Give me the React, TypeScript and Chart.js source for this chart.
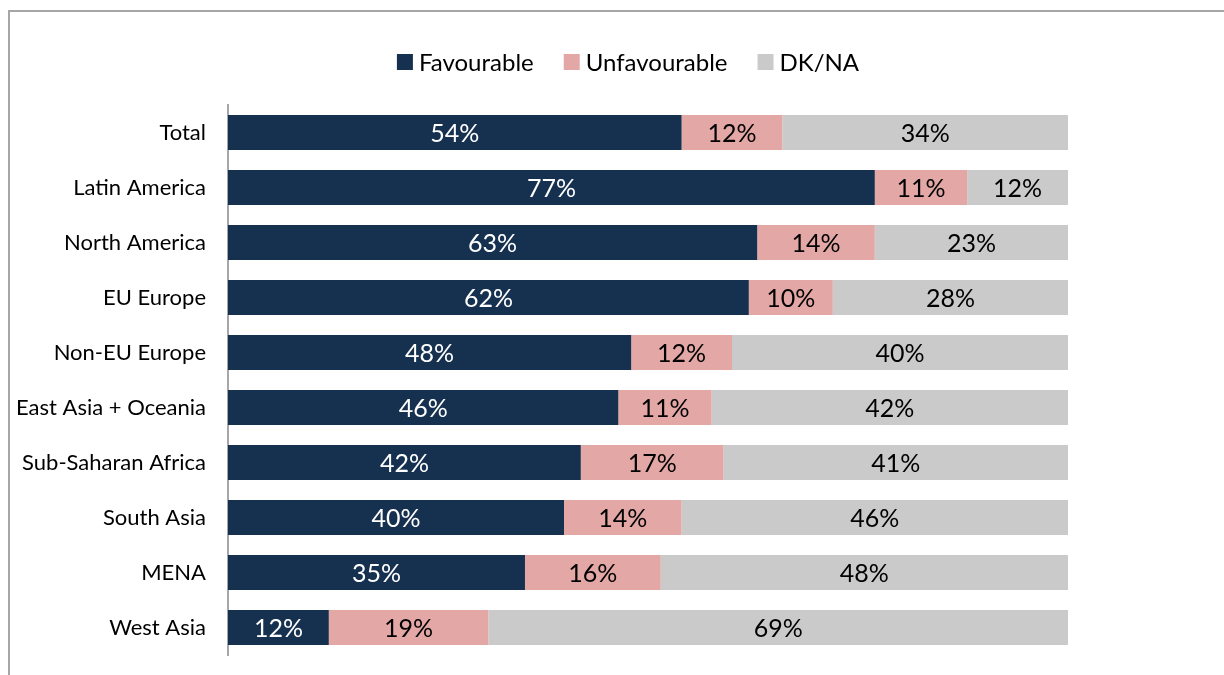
import React, { useEffect, useRef } from "react";
import { Chart, registerables } from "chart.js";

Chart.register(...registerables);

const categories = [
  "Total",
  "Latin America",
  "North America",
  "EU Europe",
  "Non-EU Europe",
  "East Asia + Oceania",
  "Sub-Saharan Africa",
  "South Asia",
  "MENA",
  "West Asia",
];
const favourable = [54, 77, 63, 62, 48, 46, 42, 40, 35, 12];
const unfavourable = [12, 11, 14, 10, 12, 11, 17, 14, 16, 19];
const dkna = [34, 12, 23, 28, 40, 42, 41, 46, 48, 69];
const seriesNames = ["Favourable", "Unfavourable", "DK/NA"];
const seriesValues = [favourable, unfavourable, dkna];
const seriesColors = ["#16304F", "#E3A8A5", "#CACACA"];
const labelColors = ["#FFFFFF", "#000000", "#000000"];

const FONT_FAMILY = "Lato, 'Noto Sans', sans-serif";
const CAT_FONT_SIZE = 22;
const VALUE_FONT_SIZE = 25;
const LEGEND_FONT_SIZE = 24;

// normalise each row so the stacked bar fills 100%
const rowSums = categories.map((_, i) => seriesValues.reduce((s, arr) => s + arr[i], 0));

const framePlugin = {
  id: "frame",
  beforeDraw(chart: any) {
    const ctx = chart.ctx;
    ctx.save();
    ctx.fillStyle = "#FFFFFF";
    ctx.fillRect(0, 0, chart.width, chart.height);
    ctx.strokeStyle = "#A6A6A6";
    ctx.lineWidth = 2;
    ctx.beginPath();
    ctx.moveTo(9, chart.height);
    ctx.lineTo(9, 11);
    ctx.lineTo(chart.width, 11);
    ctx.stroke();
    ctx.restore();
  },
};

const legendPlugin = {
  id: "customLegend",
  afterDraw(chart: any) {
    const ctx = chart.ctx;
    ctx.save();
    ctx.font = `${LEGEND_FONT_SIZE}px ${FONT_FAMILY}`;
    const box = 16;
    const gapText = 6;
    const gapItem = 30;
    const widths = seriesNames.map((n) => box + gapText + ctx.measureText(n).width);
    const total = widths.reduce((a, b) => a + b, 0) + gapItem * (widths.length - 1);
    const centerX = 628;
    const cy = 62;
    let x = centerX - total / 2;
    ctx.textBaseline = "middle";
    ctx.textAlign = "left";
    seriesNames.forEach((n, i) => {
      ctx.fillStyle = seriesColors[i];
      ctx.fillRect(x, cy - box / 2, box, box);
      ctx.fillStyle = "#000000";
      ctx.fillText(n, x + box + gapText, cy + 1);
      x += widths[i] + gapItem;
    });
    ctx.restore();
  },
};

const valueLabelPlugin = {
  id: "valueLabels",
  afterDatasetsDraw(chart: any) {
    const ctx = chart.ctx;
    ctx.save();
    ctx.font = `${VALUE_FONT_SIZE}px ${FONT_FAMILY}`;
    ctx.textAlign = "center";
    ctx.textBaseline = "middle";
    chart.data.datasets.forEach((ds: any, di: number) => {
      const meta = chart.getDatasetMeta(di);
      meta.data.forEach((bar: any, i: number) => {
        const raw = seriesValues[di][i];
        const cx = (bar.x + bar.base) / 2;
        ctx.fillStyle = labelColors[di];
        ctx.fillText(`${raw}%`, cx, bar.y + 1);
      });
    });
    ctx.restore();
  },
};

export default function App() {
  const canvasRef = useRef<HTMLCanvasElement | null>(null);

  useEffect(() => {
    if (!canvasRef.current) return;
    const chart = new Chart(canvasRef.current, {
      type: "bar",
      data: {
        labels: categories,
        datasets: seriesNames.map((name, di) => ({
          label: name,
          data: seriesValues[di].map((v, i) => (v / rowSums[i]) * 100),
          backgroundColor: seriesColors[di],
          borderWidth: 0,
          barPercentage: 0.64,
          categoryPercentage: 1,
        })),
      },
      options: {
        indexAxis: "y",
        responsive: false,
        animation: false,
        layout: { padding: { top: 105, bottom: 20, left: 0, right: 156 } },
        plugins: {
          legend: { display: false },
          tooltip: { enabled: false },
          title: { display: false },
        },
        scales: {
          x: {
            stacked: true,
            display: false,
            min: 0,
            max: 100,
          },
          y: {
            stacked: true,
            grid: { display: false, drawTicks: false },
            border: { display: true, color: "#A6A6A6", width: 2 },
            ticks: {
              color: "#000000",
              padding: 22,
              font: { family: FONT_FAMILY, size: CAT_FONT_SIZE },
            },
            afterFit(scale: any) {
              scale.width = 228;
              scale.paddingTop = 0;
              scale.paddingBottom = 0;
            },
          },
        },
      },
      plugins: [framePlugin, valueLabelPlugin, legendPlugin],
    });
    return () => chart.destroy();
  }, []);

  return (
    <canvas
      ref={canvasRef}
      width={1224}
      height={675}
      style={{ position: "absolute", left: 0, top: 0, width: 1224, height: 675, display: "block" }}
    />
  );
}
